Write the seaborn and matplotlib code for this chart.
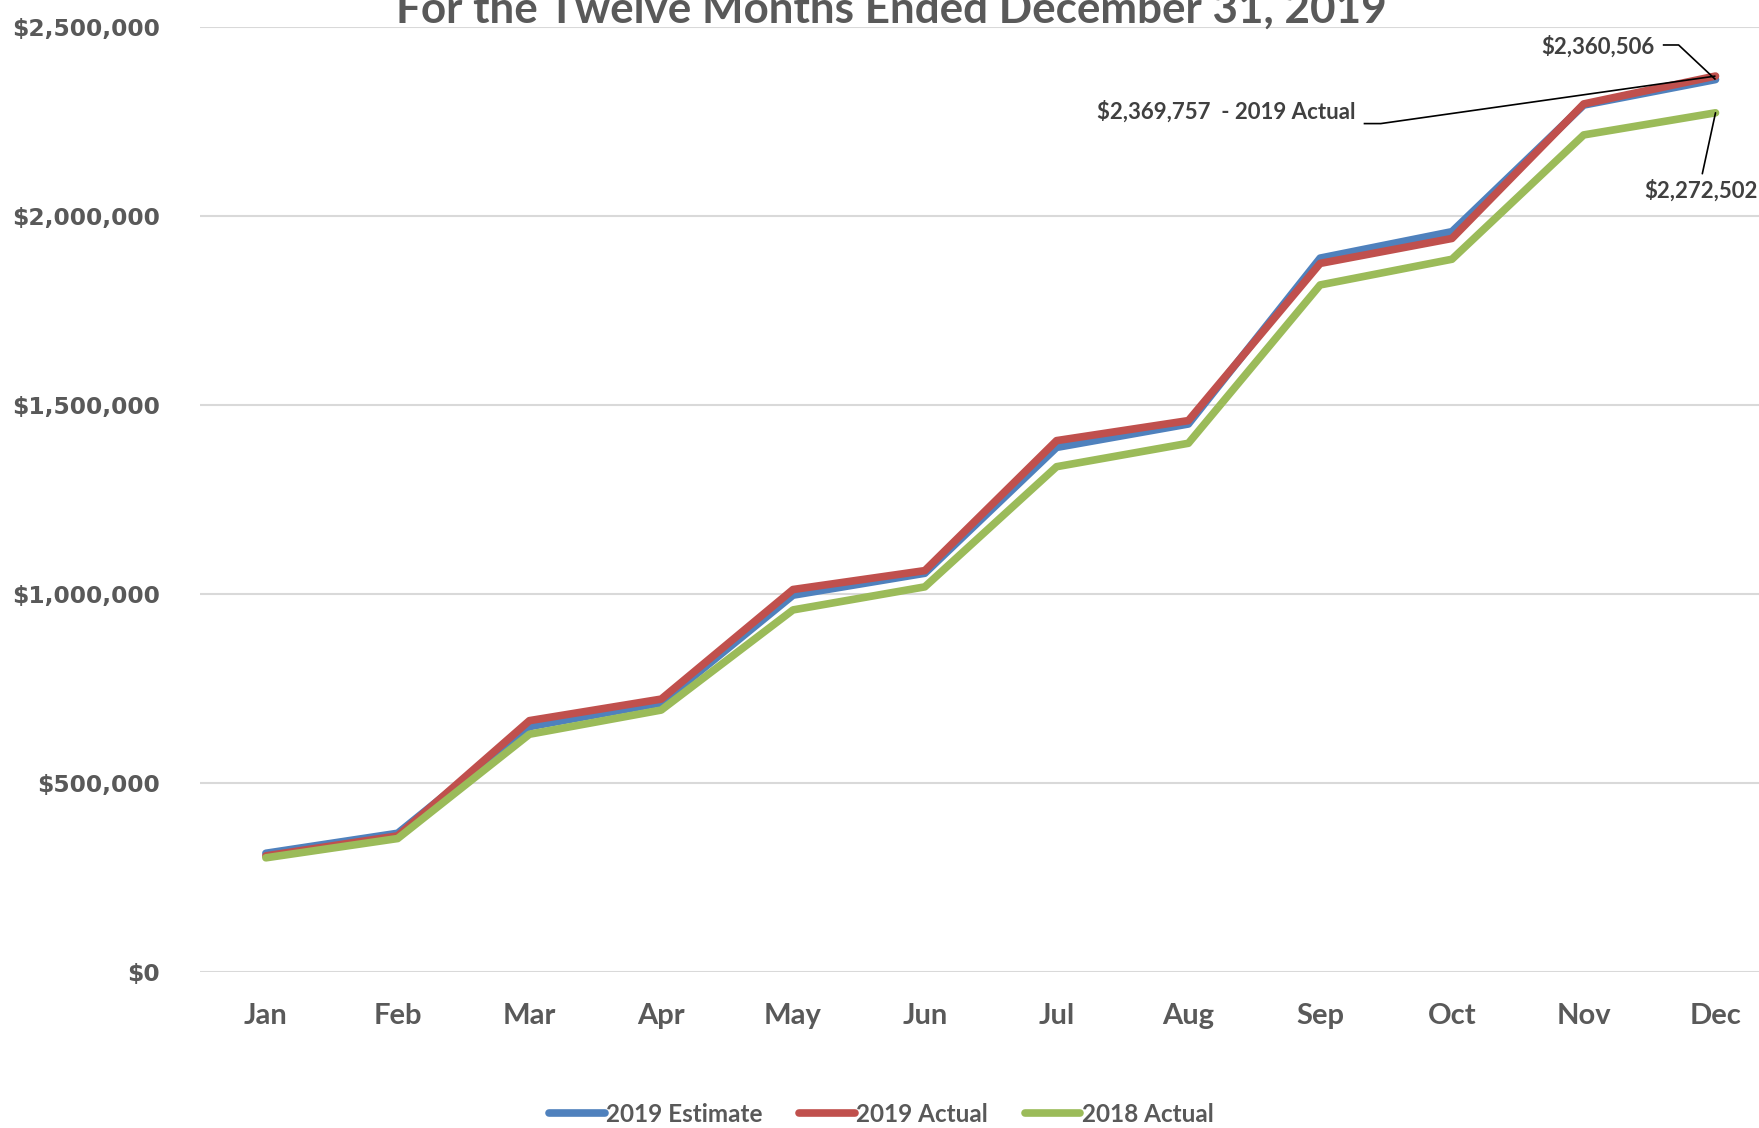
import numpy as np
import pandas as pd
import seaborn as sns
import matplotlib.pyplot as plt
from matplotlib.ticker import FuncFormatter

# data (cumulative, dollars)
months = ['Jan', 'Feb', 'Mar', 'Apr', 'May', 'Jun', 'Jul', 'Aug', 'Sep', 'Oct', 'Nov', 'Dec']
est_2019 = [313000, 366000, 648000, 711000, 996000, 1054000, 1387000, 1449000, 1888000, 1958000, 2293000, 2360506]
act_2019 = [306000, 359000, 664000, 721000, 1011000, 1061000, 1405000, 1458000, 1874000, 1940000, 2296000, 2369757]
act_2018 = [301000, 352000, 628000, 692000, 957000, 1018000, 1336000, 1398000, 1817000, 1885000, 2214000, 2272502]
series = ['2019 Estimate', '2019 Actual', '2018 Actual']
colors = ['#4F81BD', '#C0504D', '#9BBB59']
yticks = [0, 500000, 1000000, 1500000, 2000000, 2500000]
title = 'For the Twelve Months Ended December 31, 2019'

df = pd.DataFrame({
    'Month': months * 3,
    'Value': est_2019 + act_2019 + act_2018,
    'Series': np.repeat(series, len(months)),
})

sns.set_style('white')
plt.rcParams['font.family'] = ['Lato', 'DejaVu Sans']
grey = '#595959'

fig = plt.figure(figsize=(17.59, 11.28), dpi=100)
ax = fig.add_axes([0.1137, 0.1387, 0.8863, 0.8375])

sns.lineplot(data=df, x='Month', y='Value', hue='Series', hue_order=series,
             palette=colors, lw=5.5, sort=False, legend=False, ax=ax)
for ln in ax.lines:
    ln.set_solid_capstyle('round')
    ln.set_solid_joinstyle('round')

ax.set_xlim(-0.5, 11.33)
ax.set_ylim(0, 2500000)
ax.set_yticks(yticks)
ax.yaxis.set_major_formatter(FuncFormatter(lambda v, p: '${:,.0f}'.format(v)))
ax.yaxis.grid(True, color='#D9D9D9', lw=1.5)
ax.xaxis.grid(False)
ax.set_axisbelow(True)
for s in ax.spines.values():
    s.set_visible(False)
ax.set_xlabel('')
ax.set_ylabel('')
ax.tick_params(axis='x', length=0, pad=23, labelsize=21, labelcolor=grey)
ax.tick_params(axis='y', length=0, pad=29, labelsize=16.8, labelcolor=grey)
for t in ax.get_xticklabels():
    t.set_fontweight('bold')
for t in ax.get_yticklabels():
    t.set_fontweight('bold')
    t.set_family('DejaVu Sans')

# leader-line labels at December
ann = dict(fontsize=16, fontweight='bold', color='#404040')
lead = dict(color='black', lw=1.2, clip_on=False, solid_capstyle='butt')

ax.text(10.54, 2449000, '${:,}'.format(est_2019[-1]), ha='right', va='center', **ann)
ax.plot([10.60, 10.72, 11], [2452000, 2452000, est_2019[-1]], **lead)

ax.text(8.27, 2277000, '${:,}  - 2019 Actual'.format(act_2019[-1]), ha='right', va='center', **ann)
ax.plot([8.33, 8.46, 11], [2244000, 2244000, act_2019[-1]], **lead)

ax.annotate('${:,}'.format(act_2018[-1]), xy=(11, act_2018[-1]), xytext=(10.89, 2066000),
            ha='center', va='center', **ann,
            arrowprops=dict(arrowstyle='-', color='black', lw=1.2, shrinkB=0, relpos=(0.5, 1)))

fig.text(0.507, 0.980, title, ha='center', va='baseline', fontsize=31.7,
         fontweight='bold', color=grey)

fig.legend(handles=ax.lines[:3], labels=series, loc='center', bbox_to_anchor=(0.501, 0.012),
           ncol=3, frameon=False, handlelength=2.3, handletextpad=0.05, columnspacing=1.5,
           prop={'family': 'Lato', 'weight': 'bold', 'size': 17.5}, labelcolor=grey)

fig.savefig('out.png', dpi=100)
